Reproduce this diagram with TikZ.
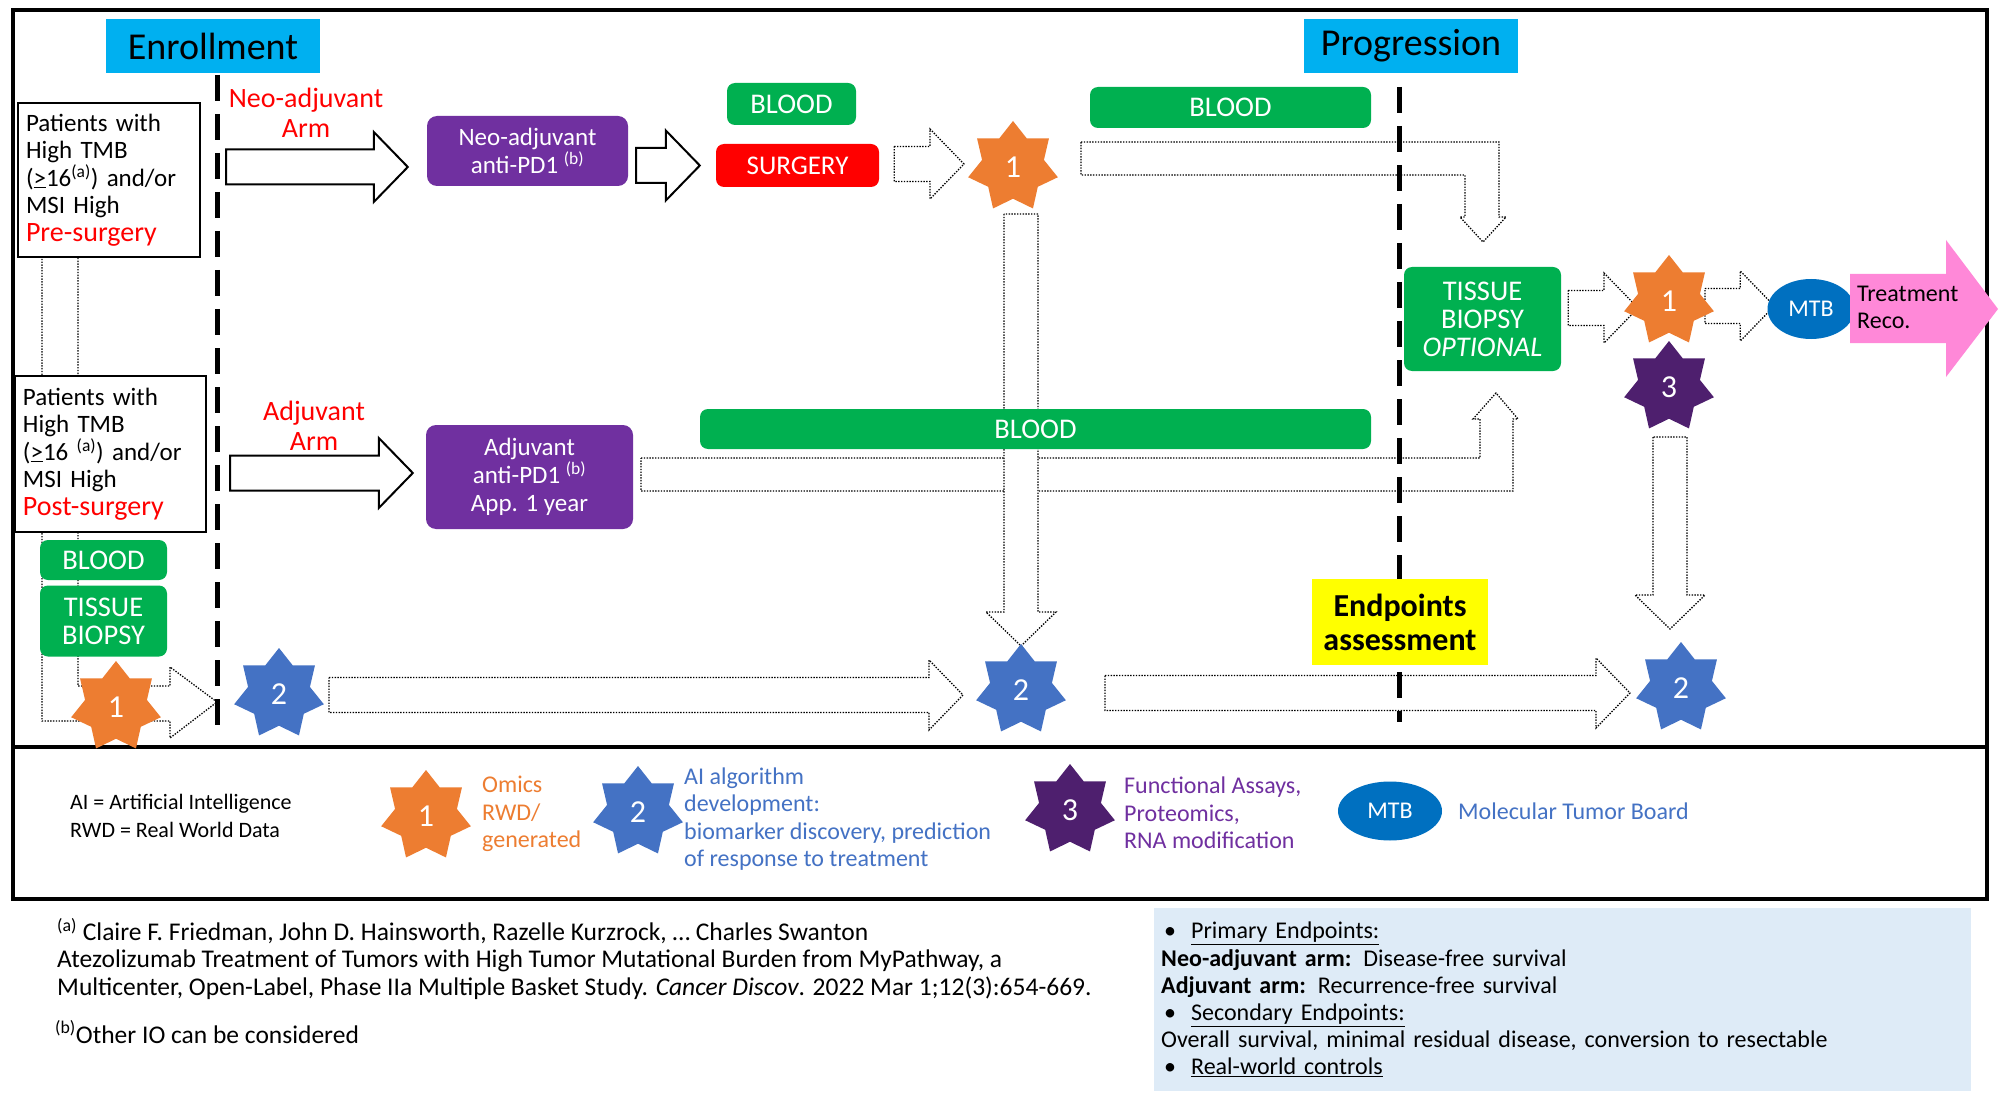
\documentclass[tikz,border=0pt]{standalone}
\usepackage{fontspec}
\setmainfont{Carlito}
\usepackage{xcolor}
\usetikzlibrary{shapes.geometric,calc,positioning}

\definecolor{hdrcyan}{HTML}{00B0F0}
\definecolor{grn}{HTML}{00B050}
\definecolor{drugpurple}{HTML}{7030A0}
\definecolor{omicsorange}{HTML}{ED7D31}
\definecolor{aiblue}{HTML}{4472C4}
\definecolor{assaypurple}{HTML}{4E1F6E}
\definecolor{mtbblue}{HTML}{0070C0}
\definecolor{recopink}{HTML}{FF88D8}
\definecolor{endyellow}{HTML}{FFFF00}
\definecolor{notebg}{HTML}{DEEBF7}
\definecolor{armred}{HTML}{FF0000}

\newcommand{\setfs}[2]{\fontsize{#1pt}{#2pt}\selectfont}

% block arrows: start point, tip point
\newcommand{\harrow}[3][]{%
  \draw[#1] let \p1=#2, \p2=#3 in
    (\x1,\y2+17.5pt) -- (\x2-34pt,\y2+17.5pt) -- (\x2-34pt,\y2+35pt) -- (\x2,\y2)
    -- (\x2-34pt,\y2-35pt) -- (\x2-34pt,\y2-17.5pt) -- (\x1,\y2-17.5pt) -- cycle;}
\newcommand{\varrow}[3][]{%
  \draw[#1] let \p1=#2, \p2=#3 in
    (\x2-17pt,\y1) -- (\x2-17pt,\y2+34pt) -- (\x2-35pt,\y2+34pt) -- (\x2,\y2)
    -- (\x2+35pt,\y2+34pt) -- (\x2+17pt,\y2+34pt) -- (\x2+17pt,\y1) -- cycle;}

\pgfdeclarelayer{back}
\pgfdeclarelayer{arrows}
\pgfsetlayers{back,arrows,main}

\tikzset{
  hdr/.style={fill=hdrcyan, minimum width=214pt, minimum height=54pt, inner sep=0pt, font=\setfs{38}{40}},
  patbox/.style={draw, line width=2pt, fill=white, align=left, anchor=north west, inner xsep=8pt, inner ysep=0pt, font=\setfs{25}{27.5}},
  armlabel/.style={text=armred, align=center, font=\setfs{28}{30}},
  drugbox/.style={fill=drugpurple, rounded corners=10pt, text=white, align=center, inner sep=0pt, font=\setfs{25}{28}},
  sample/.style={fill=grn, rounded corners=8pt, text=white, align=center, inner sep=0pt, font=\setfs{28.5}{28}},
  seven/.style={star, star points=7, star point ratio=1.45, minimum size=92pt, inner sep=0pt, text=white, font=\setfs{32}{32}, fill=#1},
  solidarrow/.style={draw=black, line width=2pt, fill=white},
  dotarrow/.style={draw=black, line width=1.3pt, dash pattern=on 1.4pt off 1.4pt, fill=white},
  phase/.style={line width=5pt, dash pattern=on 26pt off 13pt},
  board/.style={ellipse, fill=mtbblue, text=white, inner sep=0pt, font=\setfs{24}{24}},
  legendtxt/.style={anchor=west, align=left, inner sep=0pt, font=\setfs{24}{27.5}},
}

\begin{document}
\begin{tikzpicture}[x=1pt,y=-1pt]
\useasboundingbox (0,0) rectangle (2000,1099);
\begin{pgfonlayer}{back}
  \fill[white] (0,0) rectangle (2000,1099);
\end{pgfonlayer}

% frames
\draw[line width=4pt] (13,10) rectangle (1987,747);
\draw[line width=4pt] (13,747) rectangle (1987,899);

% phases
\node[hdr] (enroll) at (213,46) {Enrollment};
\node[hdr] (progr) at (1411,46) {Progression};

% patients
\node[patbox, text width=166pt, minimum height=154pt] (pat1) at (17,102)
  {Patients with\\High TMB\\(\underline{>}16\textsuperscript{(a)}) and/or\\MSI High\\\textcolor{armred}{\setfs{28}{27.5}Pre-surgery}};
\node[patbox, text width=175pt, minimum height=156pt] (pat2) at (14,375)
  {Patients with\\High TMB\\(\underline{>}16 \textsuperscript{(a)}) and/or\\MSI High\\\textcolor{armred}{\setfs{28}{27.5}Post-surgery}};
\node[sample, minimum width=127pt, minimum height=40pt] (blood0) at (103.5,560) {BLOOD};
\node[sample, minimum width=127pt, minimum height=71pt] (tissue0) at (103.5,621) {TISSUE\\BIOPSY};

% arms
\node[armlabel] (neoarm) at (306,113) {Neo-adjuvant\\Arm};
\node[armlabel] (adjarm) at (314,426) {Adjuvant\\Arm};
\node[drugbox, minimum width=201pt, minimum height=70pt] (neo) at (527.5,151) {Neo-adjuvant\\anti-PD1 \textsuperscript{(b)}};
\node[drugbox, minimum width=207pt, minimum height=104pt] (adj) at (529.5,477) {Adjuvant\\anti-PD1 \textsuperscript{(b)}\\App. 1 year};
\node[sample, minimum width=129pt, minimum height=42pt] (blood1) at (791.5,104) {BLOOD};
\node[sample, fill=armred, minimum width=163pt, minimum height=43pt, font=\setfs{27}{28}] (surgery) at (797.5,165.5) {SURGERY};
\node[sample, minimum width=157pt, minimum height=104pt] (tissue2) at (1482.5,319) {TISSUE\\BIOPSY\\\textit{OPTIONAL}};
\node[board, minimum width=87pt, minimum height=60pt] (mtb) at (1811,309) {MTB};

% stars
\node[seven=omicsorange] (s1a) at (1013,167) {1};
\node[seven=omicsorange] (s1b) at (1669,301) {1};
\node[seven=omicsorange] (s1c) at (116,707) {1};
\node[seven=assaypurple] (s3) at (1669,387) {3};
\node[seven=aiblue] (s2l) at (279,694) {2};
\node[seven=aiblue] (s2m) at (1021,690) {2};
\node[seven=aiblue] (s2r) at (1681,688) {2};

\begin{pgfonlayer}{arrows}
  % bent arrows
  \draw[dotarrow] (42,256) -- (42,721) -- (170,721) -- (170,738) -- (217,702) -- (170,667) -- (170,686) -- (78,686) -- (78,256) -- cycle;
  \draw[dotarrow] (1081,142) -- (1499,142) -- (1499,217) -- (1506,217) -- (1483,242) -- (1460,217) -- (1465,217) -- (1465,175) -- (1081,175) -- cycle;
  \draw[dotarrow] (641,458) -- (1480,458) -- (1480,419) -- (1473,419) -- (1496,393) -- (1518,419) -- (1513,419) -- (1513,491) -- (641,491) -- cycle;
  % straight arrows
  \harrow[solidarrow]{([xshift=25pt]pat1.east)}{([xshift=-19pt,yshift=-16pt]neo.west)}
  \harrow[solidarrow]{([xshift=8pt]neo.east)}{([xshift=-16pt]surgery.west)}
  \harrow[dotarrow]{([xshift=15pt]surgery.east)}{([xshift=-49pt,yshift=3pt]s1a.center)}
  \harrow[solidarrow]{([xshift=23pt]pat2.east)}{([xshift=-13pt,yshift=4pt]adj.west)}
  \harrow[dotarrow]{([xshift=50pt]s2l.center)}{([xshift=-58pt,yshift=-5pt]s2m.center)}
  \harrow[dotarrow]{([xshift=84pt]s2m.center)}{([xshift=-51pt,yshift=-5pt]s2r.center)}
  \harrow[dotarrow]{([xshift=7pt]tissue2.east)}{([xshift=-31pt,yshift=-7pt]s1b.center)}
  \harrow[dotarrow]{([xshift=36pt]s1b.center)}{([xshift=7pt,yshift=3pt]mtb.west)}
  \varrow[dotarrow]{([yshift=-47pt]s1a.center)}{([yshift=44pt]s2m.center)}
  \varrow[dotarrow]{([yshift=-50pt]s3.center)}{([xshift=-11pt,yshift=59pt]s2r.center)}
\end{pgfonlayer}

\node[sample, minimum width=281pt, minimum height=41pt] (blood2) at (1230.5,107.5) {BLOOD};
\node[sample, minimum width=671pt, minimum height=40pt] (blood3) at (1035.5,429) {BLOOD};

% dividers
\draw[phase] (217,75) -- (217,732);
\draw[phase] (1399,87) -- (1399,722);
\node[fill=endyellow, minimum width=176pt, minimum height=86pt, align=center, inner sep=0pt, font=\bfseries\setfs{32}{34}] (endp) at (1400,622) {Endpoints\\assessment};

% recommendation
\fill[recopink] (1850,274) -- (1946,274) -- (1946,240) -- (1998,309) -- (1946,377) -- (1946,343) -- (1850,343) -- cycle;
\node[anchor=west, align=left, inner sep=0pt, font=\setfs{24}{27}] (reco) at (1857,307) {Treatment\\Reco.};

% legend
\node[legendtxt, font=\setfs{22}{28}] (abbr) at (70,816) {AI = Artificial Intelligence\\RWD = Real World Data};
\node[seven=omicsorange] (k1) at (426,816) {1};
\node[legendtxt, text=omicsorange] (k1txt) at (482,814) {Omics\\RWD/\\generated};
\node[seven=aiblue] (k2) at (638,812) {2};
\node[legendtxt, text=aiblue] (k2txt) at (684,819) {AI algorithm\\development:\\biomarker discovery, prediction\\of response to treatment};
\node[seven=assaypurple] (k3) at (1070,810) {3};
\node[legendtxt, text=drugpurple] (k3txt) at (1124,813) {Functional Assays,\\Proteomics,\\RNA modification};
\node[board, minimum width=104pt, minimum height=59pt] (kmtb) at (1390,811) {MTB};
\node[legendtxt, text=aiblue] (kmtbtxt) at (1458,811) {Molecular Tumor Board};

% notes
\node[anchor=north west, align=left, inner sep=0pt, font=\setfs{25.5}{27.5}] (refa) at (57,918)
  {\textsuperscript{(a)} Claire F. Friedman, John D. Hainsworth, Razelle Kurzrock, … Charles Swanton\\
   Atezolizumab Treatment of Tumors with High Tumor Mutational Burden from MyPathway, a\\
   Multicenter, Open-Label, Phase IIa Multiple Basket Study. \textit{Cancer Discov}. 2022 Mar 1;12(3):654-669.};
\node[anchor=base west, inner sep=0pt, font=\setfs{25.5}{27.5}] (refb) at (55,1043) {\textsuperscript{(b)}Other IO can be considered};
\node[fill=notebg, anchor=north west, text width=803pt, inner xsep=7pt, inner ysep=0pt, minimum height=183pt, align=left, font=\setfs{24}{27.2}] (endpts) at (1154,908)
  {\hspace*{3pt}\textbullet\hspace{15pt}\underline{Primary Endpoints:}\\
   \textbf{Neo-adjuvant arm:} Disease-free survival\\
   \textbf{Adjuvant arm:} Recurrence-free survival\\
   \hspace*{3pt}\textbullet\hspace{15pt}\underline{Secondary Endpoints:}\\
   Overall survival, minimal residual disease, conversion to resectable\\
   \hspace*{3pt}\textbullet\hspace{15pt}\underline{Real-world controls}};
\end{tikzpicture}
\end{document}
